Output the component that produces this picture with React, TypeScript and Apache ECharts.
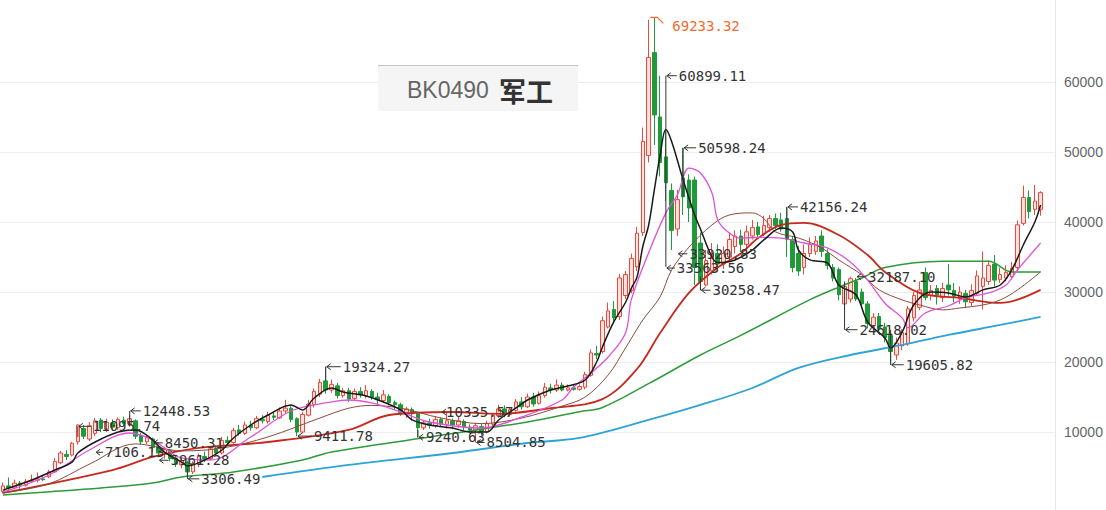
import React, { useEffect, useRef } from 'react';
import * as echarts from 'echarts';

// [open, close, low, high]
const candles: number[][] = [
  [1500,2300,1200,2800],[2300,2000,1600,3500],[2000,2700,1800,3200],[2700,2400,1900,3000],[2400,2900,2200,3300],
  [2900,3100,2700,3900],[3100,3300,2800,4200],[3300,3200,3000,3800],[3600,4300,3400,4600],[4300,5800,4200,6300],
  [5600,7000,5400,7300],[6800,6500,6000,7400],[6700,8400,6500,8600],[8600,11000,8200,11096],[10500,9400,9000,11000],
  [9000,10900,8700,11400],[9800,11600,9400,12000],[11700,10500,10000,12000],[10400,11400,10000,11900],[11300,10700,10200,11800],
  [10600,11800,10300,12100],[11700,11200,10900,12200],[11200,11900,10800,12449],[11600,9400,9000,11800],[9500,8600,8200,9900],
  [8600,9200,8300,9500],[9000,7800,7100,9200],[7900,7000,6400,8200],[7000,7500,6200,7900],[7400,6200,5800,7600],
  [6300,5400,5000,6700],[5300,5900,4800,6300],[5700,4300,3306,5900],[4300,5500,4000,5800],[5400,6600,5000,6900],
  [6500,6200,5700,7200],[6200,7600,6000,8000],[7700,7000,6600,8100],[7000,8800,6800,9300],[8800,8500,8000,9400],
  [8500,10200,8300,10600],[10300,9800,9500,11000],[9800,11000,9600,11500],[11000,10600,10200,11600],[10600,11900,10400,12300],
  [11800,11600,11200,12400],[11500,12400,11200,12900],[12300,12100,11700,12900],[12000,13000,11900,13500],[13000,13400,12600,14600],
  [13400,11800,11400,13700],[11900,10000,9412,12100],[10000,12500,9800,12900],[12400,14000,12200,14600],[13900,15800,13500,16200],
  [15400,17100,15000,17600],[17300,16000,15500,19324],[16000,16800,15600,17500],[16600,15200,14800,17000],[15200,15900,14900,16300],
  [15900,14700,14300,16300],[14800,15800,14500,16200],[15800,15300,14900,16400],[15200,15900,14800,16700],[15800,15000,14600,16100],
  [15000,14600,14000,15600],[14500,15300,14200,16000],[15100,14200,13800,15400],[14200,13900,13200,14500],[13900,12800,12300,14200],
  [12800,13300,12000,13600],[13200,12600,11600,13500],[12600,10600,9241,12900],[10600,11300,10300,11600],[11300,11000,10500,11900],
  [10900,11800,10600,12200],[11800,11100,10700,12100],[11100,11600,10500,12900],[11600,11000,10400,11900],[11000,11600,10600,12300],
  [11500,10700,10200,11800],[10700,10300,9800,11100],[10300,10900,8505,11300],[10800,10000,9500,11200],[10000,11200,9800,11600],
  [11100,12400,10800,12700],[12300,13300,12000,13900],[13300,12500,12100,13800],[12500,13200,12200,13600],[13100,14300,12900,14700],
  [14300,13600,13200,15000],[13600,15000,13400,15500],[15000,14000,13600,15600],[14100,15200,13900,15800],[15200,16400,14900,17000],
  [16300,16000,15500,16900],[16000,16700,15700,17500],[16700,16000,15800,17100],[16000,16300,15800,16800],[16300,16100,15900,16700],
  [16100,16500,15900,16800],[16400,18200,16100,18600],[18100,21300,17900,21800],[21200,21000,20400,22300],[21500,25900,21200,26500],
  [25000,27300,24800,28500],[27500,26300,25500,28700],[26500,32000,26000,32600],[29500,32500,29000,33000],[30200,34800,29800,35500],
  [33600,38400,33000,39300],[38500,51500,38000,53500],[49500,63500,48500,68900],[64200,55300,51000,69233],[55000,48500,46500,60899],
  [49300,45600,43000,53000],[44500,38800,36000,45500],[39000,43200,38000,44600],[46300,43600,41000,50598],[46000,42000,40000,46800],
  [46000,33500,31000,46500],[37000,31500,30258,38500],[31000,34500,30800,36000],[33000,35500,32500,37000],[35500,34000,33000,36800],
  [34000,35500,33300,36500],[35000,37500,34500,38500],[36500,38000,35500,38800],[38000,36800,35700,38900],[36800,38600,36000,39500],
  [38000,39200,37500,40300],[39300,38200,37800,40000],[38300,39500,38000,40900],[39200,40500,38600,41000],[40500,39500,39000,41200],
  [40300,39000,38600,41300],[40500,37500,35000,42156],[37500,33500,32800,38000],[35500,33000,32300,36600],[33500,35500,32500,36800],
  [35500,36800,35000,37800],[35800,37300,35300,38000],[38000,35800,35000,38800],[35500,33800,33200,36100],[33500,32000,31500,34000],
  [33200,29600,28800,33500],[28300,30800,27500,31200],[29000,31900,28500,32187],[31500,29000,28700,32000],[30000,28300,27800,30500],
  [28300,25500,24800,28700],[25200,26400,24618,27000],[26500,24800,24700,27000],[25000,23500,22800,25600],[23800,21500,19606,24300],
  [21000,22700,20300,23500],[22300,24200,21700,24700],[22600,27600,22300,28000],[26300,29500,25800,30000],[27800,30300,27400,31500],
  [32800,29200,28800,33500],[29500,30200,28800,31000],[30500,29600,28200,31000],[29200,30500,28600,31300],[31000,30300,29500,34000],
  [30200,29400,28500,31300],[29000,30000,28300,30800],[29800,28600,27700,30300],[28500,30200,28000,31100],[29800,32300,29500,33100],
  [30800,32000,27500,35800],[31500,33800,31000,34500],[34000,31700,30800,35300],[31800,32500,31300,33500],[32000,32800,31500,33800],
  [32200,33400,31800,34300],[33500,39600,33000,40200],[39800,43500,39500,45200],[43500,41500,40500,44500],[41800,43000,41000,45300],
  [41800,44200,40900,44400],
];

const slotCount = 183;
const categories: string[] = Array.from({ length: slotCount }, (_, i) => String(i));

// moving averages: [candle index, value]
const ma5: number[][] = [[0,1700],[5,3140],[9,4570],[12,5700],[13,7000],[16,8570],[20,10000],[23,10300],[26,8860],[28,7150],[31,5700],[32,5150],[35,6000],[38,7430],[40,9150],[43,11000],[46,12430],[50,13860],[52,13150],[54,14860],[57,16290],[59,15720],[63,15150],[66,14290],[69,13150],[71,11720],[74,11000],[78,10570],[81,10000],[84,10000],[86,11720],[89,13430],[91,14575],[95,16000],[98,16580],[101,17430],[103,20000],[104,22150],[106,25800],[108,28500],[109,30500],[110,32150],[111,36500],[112,39500],[113,44600],[114,49500],[115,53200],[116,51500],[118,46000],[120,41000],[121,39000],[123,35000],[124,34200],[127,34580],[130,36000],[132,37440],[135,39150],[137,38580],[138,36000],[140,34580],[143,34150],[145,31000],[148,29580],[150,25720],[153,23440],[154,22000],[156,24290],[158,28150],[161,30000],[164,29860],[167,29300],[170,30300],[173,31000],[175,33150],[177,36720],[179,40000],[180,42440]];
const ma10: number[][] = [[0,1430],[8,3860],[15,7430],[22,9860],[26,8860],[31,6290],[36,6000],[43,9290],[50,13000],[57,14290],[60,14575],[64,14150],[69,12860],[74,11430],[83,10570],[90,12150],[97,14575],[99,16430],[102,18430],[105,20720],[108,24150],[109,28870],[112,35580],[115,41300],[117,43870],[119,47700],[121,47000],[123,44150],[124,40300],[126,38440],[128,37700],[131,37800],[135,37700],[139,37000],[143,36300],[147,34300],[150,31700],[153,28400],[156,26300],[157,24900],[160,27000],[164,28000],[167,29150],[171,29860],[174,31000],[176,33150],[180,37000]];
const ma20: number[][] = [[0,1300],[8,2600],[15,5400],[23,8300],[31,7300],[38,7700],[46,9300],[55,12000],[60,13400],[64,13800],[69,13400],[76,12000],[83,11200],[90,12000],[97,13700],[101,15000],[105,18150],[108,22000],[111,26000],[114,29300],[116,33150],[119,36400],[123,39580],[126,41000],[130,41300],[132,40500],[134,38600],[138,37720],[142,36290],[145,34580],[149,32440],[152,30300],[156,28870],[159,28150],[163,27440],[166,27720],[170,28150],[173,28870],[176,30300],[180,32870]];
const ma30: number[][] = [[0,1290],[19,4570],[26,6430],[34,7720],[46,8570],[60,10300],[67,12430],[78,12860],[86,12600],[95,13400],[104,14700],[110,19000],[114,24150],[119,29870],[124,33500],[128,35500],[131,37700],[135,39580],[139,39870],[145,38150],[150,35290],[153,32870],[159,29870],[166,29150],[173,28440],[176,28900],[180,30300]];
const ma60: number[][] = [[0,1000],[7,1400],[17,2000],[26,2700],[31,3570],[40,4290],[52,6000],[57,7150],[74,9290],[91,11430],[100,12900],[104,13500],[112,16900],[121,21000],[128,23800],[140,28900],[145,30700],[149,32000],[153,33500],[163,34400],[171,34400],[175,32870],[180,32870]];
const ma120: number[][] = [[45,3570],[60,5290],[78,7000],[91,8430],[100,9150],[112,11720],[121,13860],[130,16290],[138,19150],[147,21000],[156,22430],[164,23860],[173,25290],[180,26440]];

const yTicks = [10000, 20000, 30000, 40000, 50000, 60000];

type Note = { i: number; v: number; text: string; to?: number; dx?: number; dy?: number; top?: boolean };
const notes: Note[] = [
  { i: 113, v: 69233.32, text: '69233.32', top: true },
  { i: 115, v: 60899.11, text: '60899.11', to: 33600, dx: 13 },
  { i: 115, v: 33563.56, text: '33563.56', dx: 11, dy: 1 },
  { i: 117, v: 34600, text: '33920.83', dx: 12, dy: -6 },
  { i: 118, v: 50598.24, text: '50598.24', to: 43600, dx: 15 },
  { i: 121, v: 30258.47, text: '30258.47', to: 32200, dx: 12 },
  { i: 136, v: 42156.24, text: '42156.24', to: 37600, dx: 13 },
  { i: 148, v: 32187.10, text: '32187.10', dx: 12 },
  { i: 146, v: 24618.02, text: '24618.02', to: 31500, dx: 15 },
  { i: 154, v: 19605.82, text: '19605.82', to: 24600, dx: 15 },
  { i: 22, v: 12448.53, text: '12448.53', to: 10800, dx: 13, dy: -4 },
  { i: 13, v: 11095.74, text: '11095.74', to: 9300, dx: 15, dy: 2 },
  { i: 16, v: 7106.13, text: '7106.13', dx: 10 },
  { i: 26, v: 8450.31, text: '8450.31', dx: 12 },
  { i: 27, v: 5961.28, text: '5961.28', dx: 12 },
  { i: 32, v: 3306.49, text: '3306.49', to: 4900, dx: 14 },
  { i: 51, v: 9411.78, text: '9411.78', dx: 17 },
  { i: 56, v: 19324.27, text: '19324.27', to: 17300, dx: 17 },
  { i: 72, v: 9240.63, text: '9240.63', to: 10300, dx: 8 },
  { i: 76, v: 12860, text: '10335.57', dx: 5 },
  { i: 82, v: 8504.85, text: '8504.85', dx: 11 },
];

export default function App() {
  const ref = useRef<HTMLDivElement>(null);
  useEffect(() => {
    document.body.style.margin = '0';
    const chart = echarts.init(ref.current!, undefined, { renderer: 'svg' });
    const line = (name: string, data: number[][], color: string, width: number) => ({
      type: 'line', name, data, symbol: 'none', smooth: 0.35, silent: true, z: 3,
      lineStyle: { color, width },
    });
    chart.setOption({
      animation: false,
      backgroundColor: '#ffffff',
      grid: { left: 0, right: 51, top: 12, bottom: 8 },
      xAxis: { type: 'category', data: categories, boundaryGap: true, show: false },
      yAxis: {
        type: 'value', position: 'right', min: 0, max: 70000, interval: 10000,
        axisLine: { show: false }, axisTick: { show: false },
        axisLabel: {
          color: '#666', fontSize: 14, fontFamily: 'Liberation Sans', margin: 9,
          formatter: (v: number) => (yTicks.includes(v) ? String(v) : ''),
        },
        splitLine: { show: true, showMinLine: false, showMaxLine: false, lineStyle: { color: '#eeeeee' } },
      },
      series: [
        {
          type: 'candlestick', data: candles, barWidth: 4, z: 2,
          itemStyle: { color: '#fde2de', color0: '#1f9a3b', borderColor: '#f0473a', borderColor0: '#1f9a3b', borderWidth: 1 },
        },
        line('MA120', ma120, '#2ea3d5', 1.8),
        line('MA60', ma60, '#2f9a3a', 1.5),
        line('MA30', ma30, '#c8281e', 1.8),
        line('MA20', ma20, '#8a4b3c', 1),
        line('MA10', ma10, '#e052d8', 1.3),
        line('MA5', ma5, '#1a1a1a', 1.5),
      ],
    });

    const px = (i: number, v: number) => chart.convertToPixel({ gridIndex: 0 } as any, [i, v]) as number[];
    const els: any[] = [];
    const font = '14px "DejaVu Sans Mono"';
    notes.forEach((n) => {
      const [x, y0] = px(n.i, n.v);
      const y = y0 + (n.dy ?? 0);
      if (n.top) {
        const c = '#f26a2e';
        els.push({ type: 'polyline', z: 10, shape: { points: [[x - 4, y], [x + 3, y], [x + 9, y + 6]] }, style: { stroke: c, lineWidth: 1.2, fill: 'none' } });
        els.push({ type: 'text', z: 10, x: x + 18, y: y + 9, style: { text: n.text, fill: c, font, verticalAlign: 'middle' } });
        return;
      }
      const c = '#333';
      const dx = n.dx ?? 12;
      if (n.to !== undefined) {
        const y2 = px(n.i, n.to)[1];
        els.push({ type: 'line', z: 10, shape: { x1: x, y1: y, x2: x, y2 }, style: { stroke: c, lineWidth: 1 } });
      }
      els.push({ type: 'line', z: 10, shape: { x1: x + 1, y1: y, x2: x + Math.max(dx - 2, 4), y2: y }, style: { stroke: c, lineWidth: 1 } });
      els.push({ type: 'polyline', z: 10, shape: { points: [[x + 5, y - 3], [x + 1, y], [x + 5, y + 3]] }, style: { stroke: c, lineWidth: 1, fill: 'none' } });
      els.push({ type: 'text', z: 10, x: x + dx, y, style: { text: n.text, fill: c, font, verticalAlign: 'middle' } });
    });

    chart.setOption({
      graphic: [
        { type: 'line', silent: true, shape: { x1: 1055.5, y1: 0, x2: 1055.5, y2: 510 }, style: { stroke: '#e6e6e6', lineWidth: 1 } },
        { type: 'rect', z: 20, shape: { x: 378, y: 65, width: 200, height: 46 }, style: { fill: '#f5f5f5' } },
        { type: 'line', z: 21, shape: { x1: 378, y1: 65.5, x2: 578, y2: 65.5 }, style: { stroke: '#c4c4c4', lineWidth: 1 } },
        { type: 'text', z: 21, x: 407, y: 90, style: { text: 'BK0490', fill: '#666', font: '23px "Liberation Sans"', verticalAlign: 'middle' } },
        { type: 'text', z: 21, x: 499, y: 90, style: { text: '军工', fill: '#333', font: 'bold 27px "Noto Sans CJK SC"', verticalAlign: 'middle' } },
        ...els,
      ],
    });
    return () => chart.dispose();
  }, []);
  return <div ref={ref} style={{ width: 1106, height: 510 }} />;
}
